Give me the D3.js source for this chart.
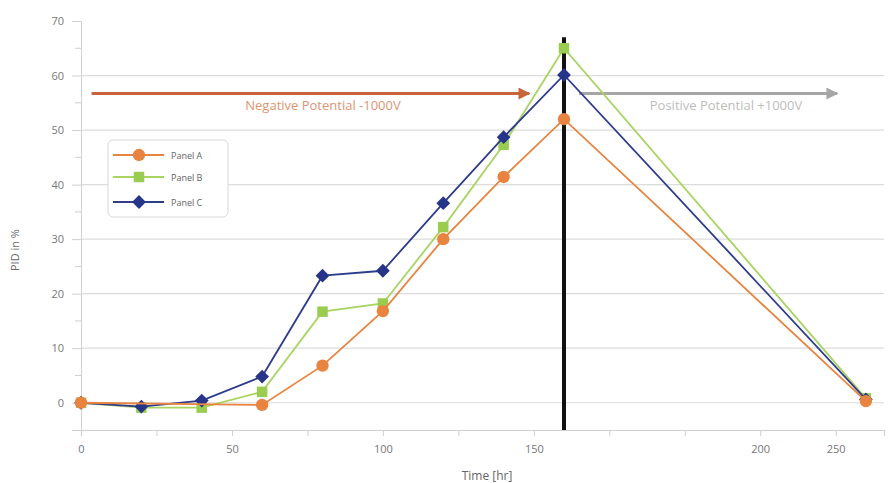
<!DOCTYPE html>
<html><head><meta charset="utf-8">
<script src="https://cdn.jsdelivr.net/npm/d3@7"></script>
<style>body{margin:0;background:#fff}svg{display:block}text{font-family:"Open Sans",sans-serif}</style>
</head><body>
<svg id="chart" width="888" height="483"></svg>
<script>
// ---- data ----
const timeHr = [0, 20, 40, 60, 80, 100, 120, 140, 160, 260];
const panelA = [0, null, null, -0.4, 6.8, 16.8, 30.0, 41.4, 52.0, 0.3];
const panelB = [0, -0.9, -0.9, 2.0, 16.7, 18.2, 32.2, 47.3, 65.0, 0.8];
const panelC = [0, -0.7, 0.4, 4.8, 23.3, 24.2, 36.6, 48.7, 60.1, 0.6];
const seriesNames = ["Panel A", "Panel B", "Panel C"];
const xTickValues = [0, 25, 50, 75, 100, 125, 150, 175, 200, 225, 250];
const xTickLabels = ["0", "", "50", "", "100", "", "150", "", "", "200", "250"];
const yMajorTicks = [0, 10, 20, 30, 40, 50, 60, 70];
const yMinorTicks = [5, 15, 25, 35, 45, 55, 65];
const yGridTicks = [0, 10, 20, 30, 40, 50, 60];
const switchTime = 160;
const negLabel = "Negative Potential -1000V";
const posLabel = "Positive Potential +1000V";

const svg = d3.select("#chart");
const x = d3.scaleLinear().domain([0, 266]).range([81, 884]);
const y = d3.scaleLinear().domain([-5, 70]).range([430, 21]);

// gridlines
svg.append("g").selectAll("line").data(yGridTicks).join("line")
  .attr("x1", x(0)).attr("x2", x(266)).attr("y1", d => y(d)).attr("y2", d => y(d))
  .attr("stroke", "#dcdcdc").attr("stroke-width", 1.2);

// y axis
const yAx = svg.append("g").attr("transform", `translate(${x(0)},0)`)
  .call(d3.axisLeft(y).tickValues(yMajorTicks).tickSize(9).tickPadding(8).tickFormat(d3.format("d")));
yAx.select(".domain").attr("stroke", "#d0d0d0");
yAx.selectAll(".tick line").attr("stroke", "#d0d0d0");
yAx.selectAll("text").attr("fill", "#777").style("font-size", "11px");
svg.append("g").selectAll("line").data(yMinorTicks).join("line")
  .attr("x1", x(0) - 6).attr("x2", x(0)).attr("y1", d => y(d)).attr("y2", d => y(d))
  .attr("stroke", "#d0d0d0");

// x axis
const xAx = svg.append("g").attr("transform", `translate(0,${y(-5)})`)
  .call(d3.axisBottom(x).tickValues(xTickValues).tickSize(6).tickPadding(9)
    .tickFormat((d, i) => xTickLabels[i]));
xAx.select(".domain").attr("stroke", "#d0d0d0").attr("stroke-width", 1.2);
xAx.selectAll(".tick line").attr("stroke", "#d0d0d0");
xAx.selectAll("text").attr("fill", "#777").style("font-size", "11px");

// axis titles
svg.append("text").attr("x", 487).attr("y", 480).attr("text-anchor", "middle")
  .attr("fill", "#666").style("font-size", "12px").text("Time [hr]");
svg.append("text").attr("transform", `translate(19,${y(28)}) rotate(-90)`)
  .attr("text-anchor", "middle").attr("fill", "#666").style("font-size", "11px").text("PID in %");

// annotation arrows
const defs = svg.append("defs");
function arrowHead(id, color) {
  defs.append("marker").attr("id", id).attr("viewBox", "0 0 10 10").attr("refX", 9).attr("refY", 5)
    .attr("markerWidth", 4).attr("markerHeight", 4).attr("orient", "auto")
    .append("path").attr("d", "M0,0L10,5L0,10Z").attr("fill", color);
}
arrowHead("ahOrange", "#c8643a");
arrowHead("ahGray", "#a6a6a6");
svg.append("line").attr("x1", x(3.5)).attr("x2", x(148.5)).attr("y1", y(56.7)).attr("y2", y(56.7))
  .attr("stroke", "#c8643a").attr("stroke-width", 3).attr("marker-end", "url(#ahOrange)");
svg.append("line").attr("x1", x(165)).attr("x2", x(250.5)).attr("y1", y(56.7)).attr("y2", y(56.7))
  .attr("stroke", "#a6a6a6").attr("stroke-width", 3).attr("marker-end", "url(#ahGray)");
svg.append("text").attr("x", 323).attr("y", 110).attr("text-anchor", "middle")
  .attr("fill", "#dd9570").style("font-size", "13px").text(negLabel);
svg.append("text").attr("x", 726).attr("y", 110).attr("text-anchor", "middle")
  .attr("fill", "#bdbdbd").style("font-size", "13px").text(posLabel);

// series
const colors = {"Panel A": "#e8843f", "Panel B": "#9acd4f", "Panel C": "#26348a"};
const lineColors = {"Panel A": "#e8843f", "Panel B": "#a8d460", "Panel C": "#2e3c8c"};
const values = {"Panel A": panelA, "Panel B": panelB, "Panel C": panelC};
const shapes = {"Panel A": d3.symbolCircle, "Panel B": d3.symbolSquare, "Panel C": d3.symbolSquare};
const sizes = {"Panel A": 120, "Panel B": 110, "Panel C": 95};
const rot = {"Panel A": 0, "Panel B": 0, "Panel C": 45};
const line = d3.line().x(d => x(d[0])).y(d => y(d[1]));

// vertical switch line
svg.append("line").attr("x1", x(switchTime)).attr("x2", x(switchTime)).attr("y1", y(67)).attr("y2", y(-5))
  .attr("stroke", "#111").attr("stroke-width", 4);

["Panel B", "Panel C", "Panel A"].forEach(name => {
  const pts = timeHr.map((t, i) => [t, values[name][i]]).filter(p => p[1] !== null);
  const g = svg.append("g");
  g.append("path").datum(pts).attr("d", line).attr("fill", "none")
    .attr("stroke", lineColors[name]).attr("stroke-width", 1.8);
  g.selectAll("path.m").data(pts).join("path").attr("class", "m")
    .attr("transform", d => `translate(${x(d[0])},${y(d[1])}) rotate(${rot[name]})`)
    .attr("d", d3.symbol().type(shapes[name]).size(sizes[name]))
    .attr("fill", colors[name]);
});

// legend
const lg = svg.append("g");
lg.append("rect").attr("x", 108).attr("y", 140).attr("width", 120).attr("height", 77).attr("rx", 5)
  .attr("fill", "#fff").attr("stroke", "#d8d8d8");
seriesNames.forEach((name, i) => {
  const yy = [155, 177, 202][i];
  lg.append("line").attr("x1", 113).attr("x2", 164).attr("y1", yy).attr("y2", yy)
    .attr("stroke", lineColors[name]).attr("stroke-width", 1.8);
  lg.append("path").attr("transform", `translate(139,${yy}) rotate(${rot[name]})`)
    .attr("d", d3.symbol().type(shapes[name]).size(sizes[name])).attr("fill", colors[name]);
  lg.append("text").attr("x", 171).attr("y", yy + 3.5).attr("fill", "#666")
    .style("font-size", "9px").text(name);
});
</script>
</body></html>
